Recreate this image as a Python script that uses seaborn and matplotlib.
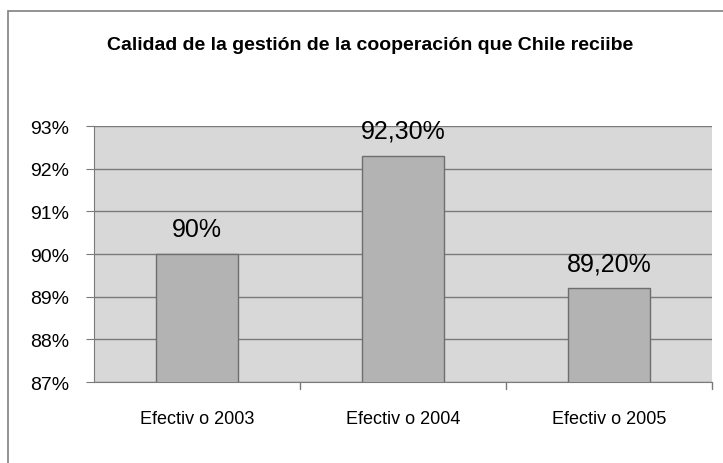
import matplotlib
matplotlib.use("Agg")
import matplotlib.pyplot as plt
import seaborn as sns
import pandas as pd
from matplotlib.patches import Rectangle

# datos
categorias = ["Efectiv o 2003", "Efectiv o 2004", "Efectiv o 2005"]
valores = [90.0, 92.3, 89.2]
etiquetas = ["90%", "92,30%", "89,20%"]
ticks_y = [87, 88, 89, 90, 91, 92, 93]

df = pd.DataFrame({"cat": categorias, "val": valores})

sns.set_style("white")
plt.rcParams['font.family'] = ['Liberation Sans', 'DejaVu Sans']
plt.rcParams['text.color'] = 'black'
plt.rcParams['xtick.color'] = 'black'
plt.rcParams['ytick.color'] = 'black'

fig = plt.figure(figsize=(7.23, 4.64), dpi=100)
ax = fig.add_axes([94/723, 1 - 383/464, (712-94)/723, (383-127)/464])

sns.barplot(x="cat", y="val", data=df, color="#b3b3b3", width=0.4,
            edgecolor="#6e6e6e", linewidth=1, ax=ax, zorder=3)

ax.set_facecolor("#d8d8d8")
ax.set_ylim(87, 93)
ax.set_xlim(-0.5, 2.5)
ax.set_yticks(ticks_y)
ax.set_yticklabels([f"{t}%" for t in ticks_y], fontsize=14)
ax.grid(axis="y", color="#7a7a7a", linewidth=1, zorder=0)
ax.set_axisbelow(True)

# ticks de categoria en los bordes
ax.set_xticks([0, 1, 2])
ax.set_xticklabels(categorias, fontsize=13)
ax.tick_params(axis="x", length=0, pad=20, labelcolor="black")
ax.tick_params(axis="y", length=6, color="#7a7a7a", pad=12, direction="out",
               left=True, labelcolor="black")
for xb in [0.5, 1.5, 2.5]:
    ax.plot([xb, xb], [87, 86.84], color="#7a7a7a", lw=1, clip_on=False)

for s in ["top", "right"]:
    ax.spines[s].set_visible(False)
ax.spines["left"].set_color("#7a7a7a")
ax.spines["bottom"].set_color("#7a7a7a")

for i, (v, t) in enumerate(zip(valores, etiquetas)):
    ax.annotate(t, (i, v), xytext=(0, 13), textcoords="offset points",
                ha="center", va="baseline", fontsize=18, color="black", zorder=4)

ax.set_xlabel("")
ax.set_ylabel("")

fig.text(370/723, 1 - 45/464, "Calidad de la gestión de la cooperación que Chile reciibe",
         ha="center", va="center", fontsize=14, fontweight="bold", color="black")

# borde del grafico
fig.patches.append(Rectangle((8/723, -0.1), 1.2, 1 - 12/464 + 0.1, transform=fig.transFigure,
                             fill=False, edgecolor="#808080", lw=1.2))

fig.savefig("out.png", dpi=100)
